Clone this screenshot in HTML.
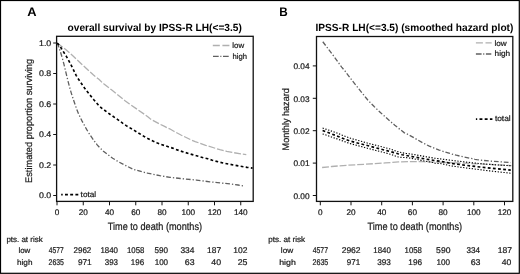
<!DOCTYPE html>
<html><head><meta charset="utf-8"><style>
html,body{margin:0;padding:0;background:#fff;}
svg{display:block;will-change:transform;}
text{font-family:"Liberation Sans",sans-serif;text-rendering:geometricPrecision;stroke:#1a1a1a;stroke-width:0.22px;}
text.b{stroke:none;}
</style></head><body>
<svg width="520" height="274" viewBox="0 0 520 274">
<rect x="0.5" y="0.5" width="518.8" height="272.8" fill="#fff" stroke="#000" stroke-width="1.2"/>
<text x="27.27" y="16.2" font-size="12.4" font-weight="bold" text-anchor="start" fill="#000" textLength="9.31" lengthAdjust="spacingAndGlyphs" class="b" >A</text>
<text x="67.54" y="30.8" font-size="10.4" font-weight="bold" text-anchor="start" fill="#000" textLength="174.3" lengthAdjust="spacingAndGlyphs" class="b" >overall survival by IPSS-R LH(&lt;=3.5)</text>
<rect x="56.6" y="36.3" width="196.6" height="165.1" fill="none" stroke="#111" stroke-width="1.3"/>
<line x1="53.2" y1="43" x2="56.7" y2="43" stroke="#111" stroke-width="1"/>
<text x="51.3" y="45.9" font-size="8.2" font-weight="normal" text-anchor="end" fill="#1a1a1a" textLength="12.3" lengthAdjust="spacingAndGlyphs" >1.0</text>
<line x1="53.2" y1="73.5" x2="56.7" y2="73.5" stroke="#111" stroke-width="1"/>
<text x="51.3" y="76.4" font-size="8.2" font-weight="normal" text-anchor="end" fill="#1a1a1a" textLength="12.3" lengthAdjust="spacingAndGlyphs" >0.8</text>
<line x1="53.2" y1="104" x2="56.7" y2="104" stroke="#111" stroke-width="1"/>
<text x="51.3" y="106.9" font-size="8.2" font-weight="normal" text-anchor="end" fill="#1a1a1a" textLength="12.3" lengthAdjust="spacingAndGlyphs" >0.6</text>
<line x1="53.2" y1="134.5" x2="56.7" y2="134.5" stroke="#111" stroke-width="1"/>
<text x="51.3" y="137.4" font-size="8.2" font-weight="normal" text-anchor="end" fill="#1a1a1a" textLength="12.3" lengthAdjust="spacingAndGlyphs" >0.4</text>
<line x1="53.2" y1="165" x2="56.7" y2="165" stroke="#111" stroke-width="1"/>
<text x="51.3" y="167.9" font-size="8.2" font-weight="normal" text-anchor="end" fill="#1a1a1a" textLength="12.3" lengthAdjust="spacingAndGlyphs" >0.2</text>
<line x1="53.2" y1="195.5" x2="56.7" y2="195.5" stroke="#111" stroke-width="1"/>
<text x="51.3" y="198.4" font-size="8.2" font-weight="normal" text-anchor="end" fill="#1a1a1a" textLength="12.3" lengthAdjust="spacingAndGlyphs" >0.0</text>
<line x1="57" y1="201.7" x2="57" y2="205.3" stroke="#111" stroke-width="1"/>
<text x="57" y="215.1" font-size="8.2" font-weight="normal" text-anchor="middle" fill="#1a1a1a" >0</text>
<line x1="83.25" y1="201.7" x2="83.25" y2="205.3" stroke="#111" stroke-width="1"/>
<text x="83.25" y="215.1" font-size="8.2" font-weight="normal" text-anchor="middle" fill="#1a1a1a" >20</text>
<line x1="109.5" y1="201.7" x2="109.5" y2="205.3" stroke="#111" stroke-width="1"/>
<text x="109.5" y="215.1" font-size="8.2" font-weight="normal" text-anchor="middle" fill="#1a1a1a" >40</text>
<line x1="135.75" y1="201.7" x2="135.75" y2="205.3" stroke="#111" stroke-width="1"/>
<text x="135.75" y="215.1" font-size="8.2" font-weight="normal" text-anchor="middle" fill="#1a1a1a" >60</text>
<line x1="162" y1="201.7" x2="162" y2="205.3" stroke="#111" stroke-width="1"/>
<text x="162" y="215.1" font-size="8.2" font-weight="normal" text-anchor="middle" fill="#1a1a1a" >80</text>
<line x1="188.25" y1="201.7" x2="188.25" y2="205.3" stroke="#111" stroke-width="1"/>
<text x="188.25" y="215.1" font-size="8.2" font-weight="normal" text-anchor="middle" fill="#1a1a1a" >100</text>
<line x1="214.5" y1="201.7" x2="214.5" y2="205.3" stroke="#111" stroke-width="1"/>
<text x="214.5" y="215.1" font-size="8.2" font-weight="normal" text-anchor="middle" fill="#1a1a1a" >120</text>
<line x1="240.75" y1="201.7" x2="240.75" y2="205.3" stroke="#111" stroke-width="1"/>
<text x="240.75" y="215.1" font-size="8.2" font-weight="normal" text-anchor="middle" fill="#1a1a1a" >140</text>
<text x="107.77" y="230" font-size="10.6" font-weight="normal" text-anchor="start" fill="#1a1a1a" textLength="94.28" lengthAdjust="spacingAndGlyphs" >Time to death (months)</text>
<g transform="translate(32.3,182.9) rotate(-90)"><text x="0" y="0" font-size="9.6" font-weight="normal" text-anchor="start" fill="#1a1a1a" textLength="124" lengthAdjust="spacingAndGlyphs" >Estimated proportion surviving</text></g>
<polyline points="57.2,43 62.9,47.3 68.6,52.06 72.8,55.84 81.2,63.79 93.5,75.03 95,76.31 99.2,79.59 102.2,82.53 104,84.06 111.8,90.1 125,100.68 129.5,103.93 145.7,115.18 147.8,116.73 150.5,118.92 151.7,119.73 159.5,124.02 164.6,126.43 167,127.68 169.7,128.8 174.2,131.45 181.4,135.21 190.7,139.72 195.2,141.59 205.7,145.32 215.6,148.38 219.8,149.56 226.7,151.29 232.7,152.49 240.8,153.9 246.3,154.6" fill="none" stroke="#b0b0b0" stroke-width="1.3" stroke-dasharray="6.9 1.9"/>
<polyline points="57.2,43 58.4,45.96 59.6,49.32 62.3,57.96 63.8,63.7 68,81.12 69.5,86.85 71,92.12 73.1,98.75 76.7,109.18 78.5,113.75 82.1,121.1 86.6,129.39 89.6,134.25 94.4,141.26 97.4,145.11 100.1,148.11 103.4,151.14 107.9,154.75 112.7,158.2 118.1,161.58 126.8,166.13 132.5,168.89 134,169.52 135.2,169.9 142.7,171.97 147.5,173.14 159.8,175.68 164.9,176.55 170,177.29 180.5,178.52 196.4,180.03 209.9,181.83 230.6,184.04 238.1,185 243.1,185.9" fill="none" stroke="#606060" stroke-width="1.3" stroke-dasharray="4.7 2 1.3 1.9"/>
<polyline points="57.2,43 59,45.05 60.5,47.08 66.5,56.57 68.6,60.35 71.9,66.64 76.1,75.33 77.6,77.86 85.1,88.87 87.8,92.34 93.8,99.74 98.3,104.96 100.1,106.7 102.2,108.51 110.3,114.48 118.1,119.83 122.6,123.19 126.2,125.63 134.6,130.61 144.2,136.5 147.8,138.45 152.9,140.99 156.8,142.73 161,144.39 171.8,147.86 179.9,150.87 189.8,153.9 203.9,157.86 207.8,158.69 212.3,160.24 219.5,162.18 225.5,163.46 235.1,165.29 247.1,167.33 252.55,168.1" fill="none" stroke="#000" stroke-width="1.65" stroke-dasharray="2.8 2.35"/>
<line x1="212.8" y1="45.5" x2="229.5" y2="45.5" fill="none" stroke="#b0b0b0" stroke-width="1.3" stroke-dasharray="7 2.6"/>
<text x="232.34" y="47.9" font-size="7.8" font-weight="normal" text-anchor="start" fill="#1a1a1a" textLength="11.84" lengthAdjust="spacingAndGlyphs" >low</text>
<line x1="213" y1="56.3" x2="229.5" y2="56.3" fill="none" stroke="#606060" stroke-width="1.3" stroke-dasharray="5.7 1.6 1.1 1.6"/>
<text x="232.52" y="58.5" font-size="7.8" font-weight="normal" text-anchor="start" fill="#1a1a1a" textLength="14.51" lengthAdjust="spacingAndGlyphs" >high</text>
<line x1="61.2" y1="194.5" x2="78.3" y2="194.5" stroke-dashoffset="1.4" fill="none" stroke="#000" stroke-width="1.75" stroke-dasharray="2.9 2.3"/>
<text x="80.63" y="196.9" font-size="7.8" font-weight="normal" text-anchor="start" fill="#1a1a1a" textLength="15.53" lengthAdjust="spacingAndGlyphs" >total</text>
<text x="279.26" y="16.2" font-size="12.4" font-weight="bold" text-anchor="start" fill="#000" textLength="8.49" lengthAdjust="spacingAndGlyphs" class="b" >B</text>
<text x="315.51" y="30.8" font-size="10.4" font-weight="bold" text-anchor="start" fill="#000" textLength="197.84" lengthAdjust="spacingAndGlyphs" class="b" >IPSS-R LH(&lt;=3.5) (smoothed hazard plot)</text>
<rect x="316.5" y="36.5" width="196.3" height="164.9" fill="none" stroke="#111" stroke-width="1.3"/>
<line x1="312.8" y1="65.9" x2="316.5" y2="65.9" stroke="#111" stroke-width="1"/>
<text x="309.6" y="69.1" font-size="8.2" font-weight="normal" text-anchor="end" fill="#1a1a1a" textLength="16.2" lengthAdjust="spacingAndGlyphs" >0.04</text>
<line x1="312.8" y1="98.3" x2="316.5" y2="98.3" stroke="#111" stroke-width="1"/>
<text x="309.6" y="101.5" font-size="8.2" font-weight="normal" text-anchor="end" fill="#1a1a1a" textLength="16.2" lengthAdjust="spacingAndGlyphs" >0.03</text>
<line x1="312.8" y1="130.7" x2="316.5" y2="130.7" stroke="#111" stroke-width="1"/>
<text x="309.6" y="133.9" font-size="8.2" font-weight="normal" text-anchor="end" fill="#1a1a1a" textLength="16.2" lengthAdjust="spacingAndGlyphs" >0.02</text>
<line x1="312.8" y1="163.1" x2="316.5" y2="163.1" stroke="#111" stroke-width="1"/>
<text x="309.6" y="166.3" font-size="8.2" font-weight="normal" text-anchor="end" fill="#1a1a1a" textLength="16.2" lengthAdjust="spacingAndGlyphs" >0.01</text>
<line x1="312.8" y1="195.5" x2="316.5" y2="195.5" stroke="#111" stroke-width="1"/>
<text x="309.6" y="198.7" font-size="8.2" font-weight="normal" text-anchor="end" fill="#1a1a1a" textLength="16.2" lengthAdjust="spacingAndGlyphs" >0.00</text>
<line x1="320.3" y1="201.7" x2="320.3" y2="205.3" stroke="#111" stroke-width="1"/>
<text x="320.3" y="215.1" font-size="8.2" font-weight="normal" text-anchor="middle" fill="#1a1a1a" >0</text>
<line x1="351" y1="201.7" x2="351" y2="205.3" stroke="#111" stroke-width="1"/>
<text x="351" y="215.1" font-size="8.2" font-weight="normal" text-anchor="middle" fill="#1a1a1a" >20</text>
<line x1="381.7" y1="201.7" x2="381.7" y2="205.3" stroke="#111" stroke-width="1"/>
<text x="381.7" y="215.1" font-size="8.2" font-weight="normal" text-anchor="middle" fill="#1a1a1a" >40</text>
<line x1="412.4" y1="201.7" x2="412.4" y2="205.3" stroke="#111" stroke-width="1"/>
<text x="412.4" y="215.1" font-size="8.2" font-weight="normal" text-anchor="middle" fill="#1a1a1a" >60</text>
<line x1="443.1" y1="201.7" x2="443.1" y2="205.3" stroke="#111" stroke-width="1"/>
<text x="443.1" y="215.1" font-size="8.2" font-weight="normal" text-anchor="middle" fill="#1a1a1a" >80</text>
<line x1="473.8" y1="201.7" x2="473.8" y2="205.3" stroke="#111" stroke-width="1"/>
<text x="473.8" y="215.1" font-size="8.2" font-weight="normal" text-anchor="middle" fill="#1a1a1a" >100</text>
<line x1="504.5" y1="201.7" x2="504.5" y2="205.3" stroke="#111" stroke-width="1"/>
<text x="504.5" y="215.1" font-size="8.2" font-weight="normal" text-anchor="middle" fill="#1a1a1a" >120</text>
<text x="367.47" y="230" font-size="10.6" font-weight="normal" text-anchor="start" fill="#1a1a1a" textLength="94.64" lengthAdjust="spacingAndGlyphs" >Time to death (months)</text>
<g transform="translate(288.6,150.4) rotate(-90)"><text x="0" y="0" font-size="9.6" font-weight="normal" text-anchor="start" fill="#1a1a1a" textLength="62.2" lengthAdjust="spacingAndGlyphs" >Monthly hazard</text></g>
<polyline points="322.1,167.5 331.7,166.49 348.2,165.18 365,164.25 385.1,162.97 398.6,161.95 408.8,161.57 423.5,161.71 458.6,162.97 479.9,163.91 511.5,165.6" fill="none" stroke="#b0b0b0" stroke-width="1.3" stroke-dasharray="6.9 1.9"/>
<polyline points="322.8,41.75 334.2,56.75 341.7,67.12 345.3,71.42 350.7,78.62 354.6,83.64 365.7,97.54 367.8,99.97 370.8,103.19 374.4,106.81 380.1,112.2 384.9,116.59 390.3,121.37 394.8,125.21 399.6,129.12 404.1,132.59 405,133.09 407.4,134.17 410.1,135.59 422.7,142.79 426.3,144.66 429.3,146.09 434.1,148.12 439.2,150.04 444.6,151.89 451.2,153.87 456.3,155.24 461.4,156.46 472.2,158.7 474.9,159.34 477,159.68 481.8,160.27 491.1,161.17 510.75,162.6" fill="none" stroke="#606060" stroke-width="1.3" stroke-dasharray="4.7 2 1.3 1.9"/>
<polyline points="322.6,128 336.1,132.74 346.9,136.98 350.8,138.34 369.1,143.54 388,148.39 391,149.29 398.5,151.85 402.7,152.88 406,153.44 409.9,153.87 412.3,154.22 425.8,156.7 434.5,158.15 462.4,161.68 473.5,162.94 484.9,164 497.8,164.97 510.75,165.75" fill="none" stroke="#000" stroke-width="1.1" stroke-dasharray="1.3 1.6"/>
<polyline points="322.6,133.9 337,138.88 346.3,142.31 349.9,143.51 369.1,148.72 388,153.56 391,154.46 396.1,156.32 398.5,157 400.3,157.28 407.5,157.75 410.2,158.1 414.7,158.93 422.8,160.67 431.5,162.18 433.3,162.6 434.8,163.12 436.6,163.34 439.9,163.49 441.4,163.68 443.5,164.12 448.9,165.49 455.2,166.5 466,167.95 489.4,170.85 510.75,173.25" fill="none" stroke="#000" stroke-width="1.1" stroke-dasharray="1.3 1.6"/>
<polyline points="322.6,130.5 338.2,136.41 346.6,139.84 350.2,141.08 386.8,150.65 397.9,153.69 402.1,154.69 421.6,158.33 434.8,160.59 440.8,161.34 448.9,162.95 455.5,163.96 466.9,165.47 480.1,167.01 495.4,168.65 510.75,170.15" fill="none" stroke="#000" stroke-width="1.65" stroke-dasharray="2.8 2.35"/>
<line x1="475.9" y1="42.8" x2="491.7" y2="42.8" fill="none" stroke="#b0b0b0" stroke-width="1.3" stroke-dasharray="7 2.6"/>
<text x="494.51" y="45.7" font-size="7.8" font-weight="normal" text-anchor="start" fill="#1a1a1a" textLength="12.21" lengthAdjust="spacingAndGlyphs" >low</text>
<line x1="475.9" y1="54" x2="491.3" y2="54" fill="none" stroke="#606060" stroke-width="1.3" stroke-dasharray="5.7 1.6 1.1 1.6"/>
<text x="494.54" y="56.4" font-size="7.8" font-weight="normal" text-anchor="start" fill="#1a1a1a" textLength="15.69" lengthAdjust="spacingAndGlyphs" >high</text>
<line x1="475.9" y1="119" x2="492.4" y2="119" stroke-dashoffset="1.6" fill="none" stroke="#000" stroke-width="1.75" stroke-dasharray="2.9 2.3"/>
<text x="494.91" y="121.4" font-size="7.8" font-weight="normal" text-anchor="start" fill="#1a1a1a" textLength="15.76" lengthAdjust="spacingAndGlyphs" >total</text>
<text x="6.44" y="241.7" font-size="7.8" font-weight="normal" text-anchor="start" fill="#1a1a1a" textLength="36.21" lengthAdjust="spacingAndGlyphs" >pts. at risk</text>
<text x="18.41" y="253" font-size="7.8" font-weight="normal" text-anchor="start" fill="#1a1a1a" textLength="11.86" lengthAdjust="spacingAndGlyphs" >low</text>
<text x="17.01" y="264.7" font-size="7.8" font-weight="normal" text-anchor="start" fill="#1a1a1a" textLength="15.46" lengthAdjust="spacingAndGlyphs" >high</text>
<text x="48.85" y="253.1" font-size="8.3" font-weight="normal" text-anchor="start" fill="#1a1a1a" textLength="14.72" lengthAdjust="spacingAndGlyphs" >4577</text>
<text x="73.51" y="253.1" font-size="8.3" font-weight="normal" text-anchor="start" fill="#1a1a1a" textLength="17.84" lengthAdjust="spacingAndGlyphs" >2962</text>
<text x="100.46" y="253.1" font-size="8.3" font-weight="normal" text-anchor="start" fill="#1a1a1a" textLength="17.56" lengthAdjust="spacingAndGlyphs" >1840</text>
<text x="126.93" y="253.1" font-size="8.3" font-weight="normal" text-anchor="start" fill="#1a1a1a" textLength="17.43" lengthAdjust="spacingAndGlyphs" >1058</text>
<text x="154.59" y="253.1" font-size="8.3" font-weight="normal" text-anchor="start" fill="#1a1a1a" textLength="13.51" lengthAdjust="spacingAndGlyphs" >590</text>
<text x="180.4" y="253.1" font-size="8.3" font-weight="normal" text-anchor="start" fill="#1a1a1a" textLength="14.03" lengthAdjust="spacingAndGlyphs" >334</text>
<text x="207.1" y="253.1" font-size="8.3" font-weight="normal" text-anchor="start" fill="#1a1a1a" textLength="13.93" lengthAdjust="spacingAndGlyphs" >187</text>
<text x="233.33" y="253.1" font-size="8.3" font-weight="normal" text-anchor="start" fill="#1a1a1a" textLength="14.15" lengthAdjust="spacingAndGlyphs" >102</text>
<text x="48.57" y="264.8" font-size="8.3" font-weight="normal" text-anchor="start" fill="#1a1a1a" textLength="15.33" lengthAdjust="spacingAndGlyphs" >2635</text>
<text x="77.89" y="264.8" font-size="8.3" font-weight="normal" text-anchor="start" fill="#1a1a1a" textLength="13.79" lengthAdjust="spacingAndGlyphs" >971</text>
<text x="104.73" y="264.8" font-size="8.3" font-weight="normal" text-anchor="start" fill="#1a1a1a" textLength="13.3" lengthAdjust="spacingAndGlyphs" >393</text>
<text x="130.84" y="264.8" font-size="8.3" font-weight="normal" text-anchor="start" fill="#1a1a1a" textLength="13.29" lengthAdjust="spacingAndGlyphs" >196</text>
<text x="154.66" y="264.8" font-size="8.3" font-weight="normal" text-anchor="start" fill="#1a1a1a" textLength="13.43" lengthAdjust="spacingAndGlyphs" >100</text>
<text x="184.76" y="264.8" font-size="8.3" font-weight="normal" text-anchor="start" fill="#1a1a1a" textLength="9.77" lengthAdjust="spacingAndGlyphs" >63</text>
<text x="211.37" y="264.8" font-size="8.3" font-weight="normal" text-anchor="start" fill="#1a1a1a" textLength="9.75" lengthAdjust="spacingAndGlyphs" >40</text>
<text x="237.74" y="264.8" font-size="8.3" font-weight="normal" text-anchor="start" fill="#1a1a1a" textLength="9.78" lengthAdjust="spacingAndGlyphs" >25</text>
<text x="268.36" y="241.7" font-size="7.8" font-weight="normal" text-anchor="start" fill="#1a1a1a" textLength="36.77" lengthAdjust="spacingAndGlyphs" >pts. at risk</text>
<text x="280.82" y="253" font-size="7.8" font-weight="normal" text-anchor="start" fill="#1a1a1a" textLength="12.4" lengthAdjust="spacingAndGlyphs" >low</text>
<text x="279.21" y="264.7" font-size="7.8" font-weight="normal" text-anchor="start" fill="#1a1a1a" textLength="16.57" lengthAdjust="spacingAndGlyphs" >high</text>
<text x="312.75" y="253.1" font-size="8.3" font-weight="normal" text-anchor="start" fill="#1a1a1a" textLength="15.19" lengthAdjust="spacingAndGlyphs" >4577</text>
<text x="341.67" y="253.1" font-size="8.3" font-weight="normal" text-anchor="start" fill="#1a1a1a" textLength="18.91" lengthAdjust="spacingAndGlyphs" >2962</text>
<text x="373.26" y="253.1" font-size="8.3" font-weight="normal" text-anchor="start" fill="#1a1a1a" textLength="17.66" lengthAdjust="spacingAndGlyphs" >1840</text>
<text x="404.62" y="253.1" font-size="8.3" font-weight="normal" text-anchor="start" fill="#1a1a1a" textLength="17.34" lengthAdjust="spacingAndGlyphs" >1058</text>
<text x="436.11" y="253.1" font-size="8.3" font-weight="normal" text-anchor="start" fill="#1a1a1a" textLength="14.32" lengthAdjust="spacingAndGlyphs" >590</text>
<text x="466.53" y="253.1" font-size="8.3" font-weight="normal" text-anchor="start" fill="#1a1a1a" textLength="13.55" lengthAdjust="spacingAndGlyphs" >334</text>
<text x="497.65" y="253.1" font-size="8.3" font-weight="normal" text-anchor="start" fill="#1a1a1a" textLength="14.3" lengthAdjust="spacingAndGlyphs" >187</text>
<text x="312.58" y="264.8" font-size="8.3" font-weight="normal" text-anchor="start" fill="#1a1a1a" textLength="15.7" lengthAdjust="spacingAndGlyphs" >2635</text>
<text x="346.79" y="264.8" font-size="8.3" font-weight="normal" text-anchor="start" fill="#1a1a1a" textLength="13.35" lengthAdjust="spacingAndGlyphs" >971</text>
<text x="377.28" y="264.8" font-size="8.3" font-weight="normal" text-anchor="start" fill="#1a1a1a" textLength="13.66" lengthAdjust="spacingAndGlyphs" >393</text>
<text x="408.34" y="264.8" font-size="8.3" font-weight="normal" text-anchor="start" fill="#1a1a1a" textLength="13.65" lengthAdjust="spacingAndGlyphs" >196</text>
<text x="436.58" y="264.8" font-size="8.3" font-weight="normal" text-anchor="start" fill="#1a1a1a" textLength="13.54" lengthAdjust="spacingAndGlyphs" >100</text>
<text x="470.7" y="264.8" font-size="8.3" font-weight="normal" text-anchor="start" fill="#1a1a1a" textLength="9.8" lengthAdjust="spacingAndGlyphs" >63</text>
<text x="501.79" y="264.8" font-size="8.3" font-weight="normal" text-anchor="start" fill="#1a1a1a" textLength="9.59" lengthAdjust="spacingAndGlyphs" >40</text>
</svg>
</body></html>
